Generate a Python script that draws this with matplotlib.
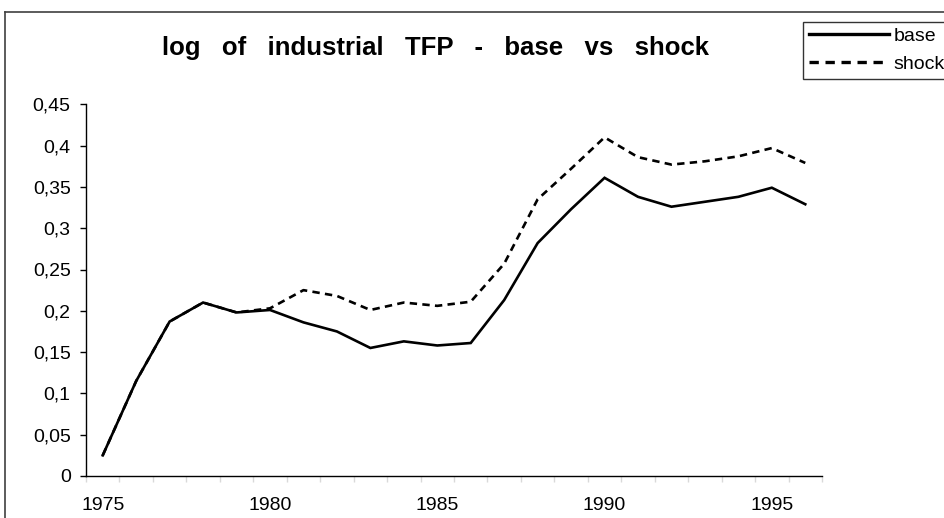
import numpy as np
import matplotlib
matplotlib.use("Agg")
import matplotlib.pyplot as plt
from matplotlib.lines import Line2D
from matplotlib.ticker import FuncFormatter

plt.rcParams['font.family'] = ['Liberation Sans', 'DejaVu Sans']

years = list(range(1975, 1997))
base = [0.025, 0.115, 0.187, 0.210, 0.198, 0.201, 0.186, 0.175, 0.155, 0.163, 0.158,
        0.161, 0.213, 0.282, 0.323, 0.361, 0.338, 0.326, 0.332, 0.338, 0.349, 0.329]
shock = [0.025, 0.115, 0.187, 0.210, 0.198, 0.203, 0.225, 0.218, 0.201, 0.210, 0.206,
         0.211, 0.257, 0.335, 0.372, 0.410, 0.386, 0.377, 0.381, 0.387, 0.397, 0.379]
year_labels = ['1975', '1980', '1985', '1990', '1995']
y_ticks = [0, 0.05, 0.1, 0.15, 0.2, 0.25, 0.3, 0.35, 0.4, 0.45]

fig = plt.figure(figsize=(9.45, 5.18), dpi=100)
ax = fig.add_axes([86 / 945, 42 / 518, (822 - 86) / 945, (476 - 104.3) / 518])

x = np.arange(len(years))
ax.plot(x, base, color='black', lw=1.9, solid_joinstyle='miter', label='base')
ax.plot(x, shock, color='black', lw=1.9, dashes=(2.8, 2.0), label='shock')

ax.set_xlim(-0.5, len(years) - 0.5)
ax.set_ylim(0, 0.45)

for s in ['top', 'right']:
    ax.spines[s].set_visible(False)
for s in ['left', 'bottom']:
    ax.spines[s].set_linewidth(1.0)

ax.set_yticks(y_ticks)
ax.yaxis.set_major_formatter(FuncFormatter(lambda v, p: ('%g' % round(v, 2)).replace('.', ',')))
ax.tick_params(axis='y', direction='out', length=4, width=1, labelsize=14, pad=7)

# labels every 5 years, tick marks at category boundaries
ax.set_xticks([years.index(int(l)) for l in year_labels])
ax.set_xticklabels(year_labels)
ax.tick_params(axis='x', which='major', length=0, labelsize=14, pad=15)
ax.set_xticks(np.arange(-0.5, len(years)), minor=True)
ax.tick_params(axis='x', which='minor', direction='out', length=4, width=1, color='#d9d9d9')
dark = [0, 1, 2, 7, 16, 17, 22]
for i, t in enumerate(ax.xaxis.get_minor_ticks()):
    if i in dark:
        t.tick1line.set_color('black')

fig.text(436 / 945, 1 - 48 / 518, 'log   of   industrial   TFP   -   base   vs   shock',
         ha='center', va='center', fontsize=18.5, fontweight='bold')

leg = fig.legend(loc='upper left', bbox_to_anchor=(803 / 945, 1 - 21.5 / 518),
                 fontsize=14, handlelength=4.1, handletextpad=0.25, borderpad=0.3,
                 labelspacing=0.55, borderaxespad=0, fancybox=False, frameon=True)
leg.get_frame().set_edgecolor('black')
leg.get_frame().set_linewidth(1.0)
for h in leg.get_lines():
    h.set_linewidth(2.4)

# outer chart border (left and top edges visible)
fig.add_artist(Line2D([5 / 945, 5 / 945], [0, 1 - 11.7 / 518], transform=fig.transFigure,
                      color='#404040', lw=1.2))
fig.add_artist(Line2D([5 / 945, 1], [1 - 11.7 / 518, 1 - 11.7 / 518], transform=fig.transFigure,
                      color='#404040', lw=1.2))

fig.savefig('out.png', dpi=100)
